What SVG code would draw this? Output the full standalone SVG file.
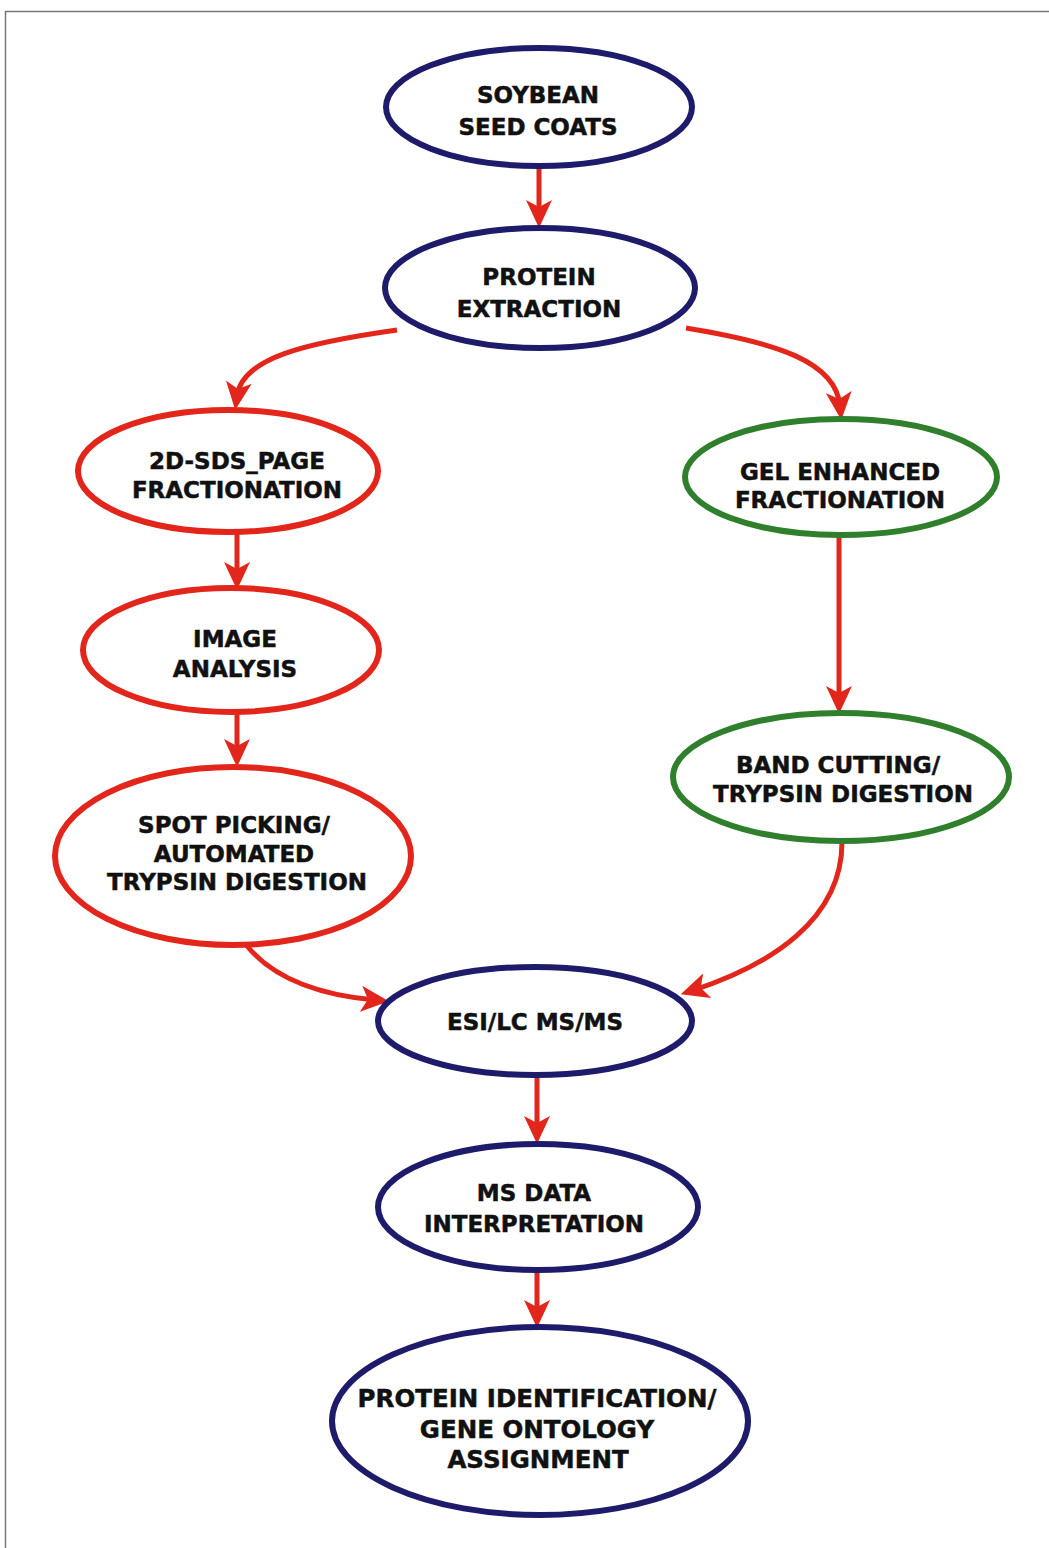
<svg xmlns="http://www.w3.org/2000/svg" width="1049" height="1548" viewBox="0 0 1049 1548">
  <defs>
    <marker id="head" markerUnits="userSpaceOnUse" markerWidth="28" markerHeight="26" viewBox="0 0 28 26" refX="14" refY="13" orient="auto">
      <path d="M0,0 L28,13 L0,26 L7,13 Z" fill="#e3261b"/>
    </marker>
    <style>
      .navy { fill: #ffffff; stroke: #1e1b6a; stroke-width: 6; }
      .red { fill: #ffffff; stroke: #e3261b; stroke-width: 6; }
      .green { fill: #ffffff; stroke: #2f7f2c; stroke-width: 6; }
      .link { fill: none; stroke: #e3261b; stroke-width: 5; marker-end: url(#head); }
      text { font-family: "DejaVu Sans", "Liberation Sans", sans-serif; font-weight: bold; font-size: 23px; fill: #111111; stroke: #111111; stroke-width: 0.5; text-anchor: middle; }
      .big text { font-size: 24.5px; }
    </style>
  </defs>

  <rect width="1049" height="1548" fill="#ffffff"/>
  <!-- page frame -->
  <path d="M5.5,1548 V11.5 H1049" fill="none" stroke="#777777" stroke-width="1.5"/>

  <g id="connectors">
    <path class="link" d="M397,330 C305,343 242,358 237,396"/>
    <path class="link" d="M686,328 C778,343 836,362 840,406"/>
    <path class="link" d="M539,168 L539,214"/>
    <path class="link" d="M237,533 L237,576"/>
    <path class="link" d="M237,711 L237,753"/>
    <path class="link" d="M839,536 L839,700"/>
    <path class="link" d="M247,946 C275,980 320,995 375,1000"/>
    <path class="link" d="M842,842 C842,920 770,965 694,990"/>
    <path class="link" d="M537,1076 L537,1130"/>
    <path class="link" d="M537,1271 L537,1314"/>
  </g>

  <g id="soybean">
    <ellipse class="navy" cx="539" cy="107" rx="153" ry="59"/>
    <text x="538" y="103">SOYBEAN</text>
    <text x="538" y="135">SEED COATS</text>
  </g>

  <g id="protein-extraction">
    <ellipse class="navy" cx="540" cy="288" rx="155" ry="60"/>
    <text x="539" y="285">PROTEIN</text>
    <text x="539" y="317">EXTRACTION</text>
  </g>

  <g id="sds-page">
    <ellipse class="red" cx="228" cy="471" rx="150" ry="61"/>
    <text x="237" y="469">2D-SDS_PAGE</text>
    <text x="237" y="498">FRACTIONATION</text>
  </g>

  <g id="image-analysis">
    <ellipse class="red" cx="231" cy="650" rx="148" ry="62"/>
    <text x="235" y="647">IMAGE</text>
    <text x="235" y="677">ANALYSIS</text>
  </g>

  <g id="spot-picking">
    <ellipse class="red" cx="233" cy="856" rx="178" ry="89"/>
    <text x="234" y="833">SPOT PICKING/</text>
    <text x="234" y="862">AUTOMATED</text>
    <text x="237" y="890">TRYPSIN DIGESTION</text>
  </g>

  <g id="gel-enhanced">
    <ellipse class="green" cx="841" cy="477" rx="156" ry="58"/>
    <text x="840" y="480">GEL ENHANCED</text>
    <text x="840" y="508">FRACTIONATION</text>
  </g>

  <g id="band-cutting">
    <ellipse class="green" cx="841" cy="777" rx="168" ry="64"/>
    <text x="838" y="773">BAND CUTTING/</text>
    <text x="843" y="802">TRYPSIN DIGESTION</text>
  </g>

  <g id="esi-lc">
    <ellipse class="navy" cx="535" cy="1021" rx="157" ry="54"/>
    <text x="535" y="1030">ESI/LC MS/MS</text>
  </g>

  <g id="ms-data">
    <ellipse class="navy" cx="538" cy="1207" rx="160" ry="63"/>
    <text x="534" y="1201">MS DATA</text>
    <text x="534" y="1232">INTERPRETATION</text>
  </g>

  <g id="protein-id" class="big">
    <ellipse class="navy" cx="540" cy="1421" rx="208" ry="94"/>
    <text x="537" y="1407">PROTEIN IDENTIFICATION/</text>
    <text x="537" y="1438">GENE ONTOLOGY</text>
    <text x="538" y="1468">ASSIGNMENT</text>
  </g>
</svg>
